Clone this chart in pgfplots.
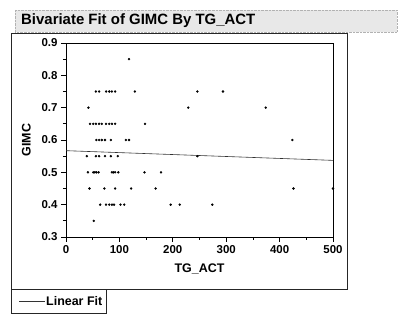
\documentclass[border=0pt]{standalone}
\usepackage{pgfplots}
\pgfplotsset{compat=1.18}
\usepackage{fontspec}
\setmainfont{Liberation Sans}
\begin{document}
\begin{tikzpicture}[x=1bp,y=1bp]
\path[use as bounding box] (0,0) rectangle (399,314);
% title bar
\fill[gray!18] (15,304) rectangle (397,282);
\draw[gray!60, densely dotted] (15,304) rectangle (397,282);
\node[anchor=west, font=\fontsize{15}{17}\selectfont\bfseries, inner sep=0] at (21,293) {Bivariate Fit of GIMC By TG\_ACT};
% outer frame
\draw[line width=1pt, black!85] (11,25) rectangle (347,281);
\draw[line width=1pt, black!85] (11,1) rectangle (106,25);
\draw[black!80] (19,13) -- (45,13);
\node[anchor=west, font=\fontsize{12.5}{14}\selectfont\bfseries, inner sep=0] at (46,12.5) {Linear Fit};
\begin{axis}[
  scale only axis,
  at={(66bp,77bp)}, anchor=south west,
  width=267bp, height=194bp,
  xmin=0, xmax=500, ymin=0.3, ymax=0.9,
  xtick={0,100,200,300,400,500},
  ytick={0.3,0.4,0.5,0.6,0.7,0.8,0.9},
  minor xtick={50,150,250,350,450},
  minor ytick={0.35,0.45,0.55,0.65,0.75,0.85},
  xtick pos=bottom, ytick pos=left,
  yticklabel style={/pgf/number format/fixed, /pgf/number format/precision=1, /pgf/number format/fixed zerofill},
  tick align=outside,
  major tick length=5bp, minor tick length=3bp,
  tick style={black, line width=0.8pt},
  axis line style={black, line width=0.8pt},
  ticklabel style={font=\fontsize{11.5}{13}\selectfont\bfseries},
  /pgf/number format/assume math mode=true,
  xlabel={TG\_ACT}, ylabel={GIMC},
  label style={font=\fontsize{12.5}{14}\selectfont\bfseries},
  xlabel style={yshift=-3bp},
  ylabel style={yshift=4bp},
]
\addplot[only marks, mark=*, mark size=1bp, black] coordinates {
(118,0.85)
(56,0.75)(62,0.75)(75,0.75)(81,0.75)(86,0.75)(92,0.75)(129,0.75)(246,0.75)(294,0.75)
(42,0.7)(229,0.7)(374,0.7)
(45,0.65)(51,0.65)(56,0.65)(62,0.65)(67,0.65)(75,0.65)(81,0.65)(86,0.65)(92,0.65)(148,0.65)
(57,0.6)(62,0.6)(67,0.6)(73,0.6)(84,0.6)(112,0.6)(118,0.6)(424,0.6)
(39,0.55)(56,0.55)(62,0.55)(73,0.55)(84,0.55)(97,0.55)(246,0.55)
(41,0.5)(51,0.5)(54,0.5)(57,0.5)(61,0.5)(86,0.5)(89,0.5)(92,0.5)(98,0.5)(147,0.5)(178,0.5)
(44,0.45)(72,0.45)(92,0.45)(122,0.45)(168,0.45)(426,0.45)(500,0.45)
(64,0.4)(75,0.4)(81,0.4)(86,0.4)(90,0.4)(102,0.4)(109,0.4)(196,0.4)(213,0.4)(274,0.4)
(52,0.35)
};
\addplot[black!80, line width=0.6pt] coordinates {(0,0.567)(500,0.537)};
\end{axis}
\end{tikzpicture}
\end{document}
